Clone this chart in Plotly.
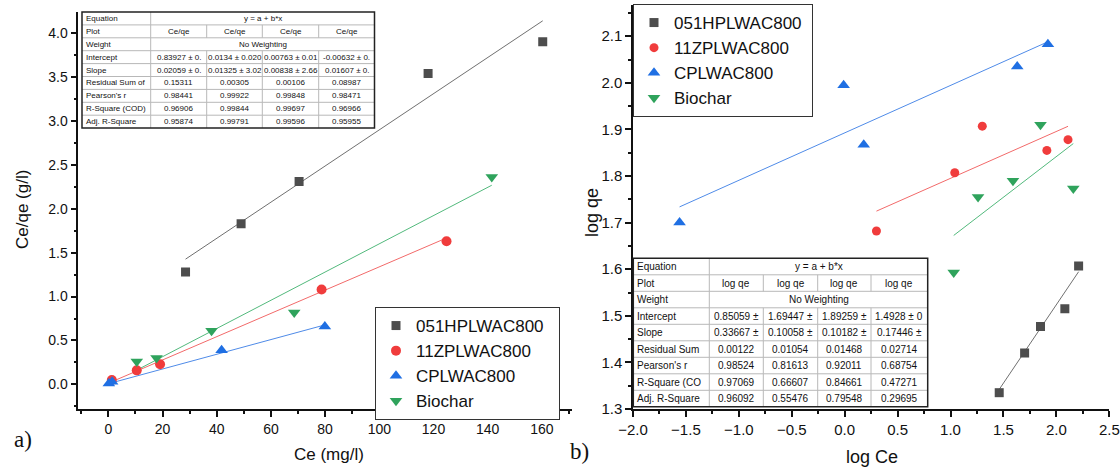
import plotly.graph_objects as go

W, H = 1120, 470
FONT = "Liberation Sans, Arial, sans-serif"

# ---------------- data ----------------
series = ["051HPLWAC800", "11ZPLWAC800", "CPLWAC800", "Biochar"]
colors = ["#4d4d4d", "#f03c3c", "#1f6fe3", "#2fa35c"]
line_colors = ["#707070", "#f26a6a", "#4f8be8", "#52b97c"]
symbols = ["square", "circle", "triangle-up", "triangle-down"]

# panel a) Ce (mg/l) vs Ce/qe (g/l)
ce_051 = [28.5, 49.0, 70.4, 118.0, 160.3]
ceqe_051 = [1.28, 1.83, 2.31, 3.54, 3.90]
ce_11z = [1.3, 10.5, 19.1, 78.7, 124.8]
ceqe_11z = [0.05, 0.16, 0.23, 1.08, 1.63]
ce_cp = [0.2, 1.4, 41.8, 79.9]
ceqe_cp = [0.01, 0.03, 0.39, 0.66]
ce_bio = [10.5, 17.8, 38.1, 68.6, 141.5]
ceqe_bio = [0.26, 0.30, 0.61, 0.82, 2.36]

a_intercept = [0.83927, 0.0134, 0.00763, -0.00632]
a_slope = [0.02059, 0.01325, 0.00838, 0.01607]

# panel b) log Ce vs log qe
logce_051 = [1.46, 1.70, 1.85, 2.08, 2.21]
logqe_051 = [1.335, 1.42, 1.477, 1.515, 1.607]
logce_11z = [0.30, 1.04, 1.30, 1.91, 2.11]
logqe_11z = [1.682, 1.807, 1.907, 1.855, 1.878]
logce_cp = [-1.56, -0.01, 0.18, 1.63, 1.92]
logqe_cp = [1.70, 1.995, 1.867, 2.035, 2.083]
logce_bio = [1.03, 1.26, 1.59, 1.85, 2.16]
logqe_bio = [1.593, 1.755, 1.79, 1.91, 1.773]

b_intercept = [0.85059, 1.69447, 1.89259, 1.4928]
b_slope = [0.33667, 0.10058, 0.10182, 0.17446]

# tables
row_labels_a = ["Equation", "Plot", "Weight", "Intercept", "Slope", "Residual Sum of",
                "Pearson's r", "R-Square (COD)", "Adj. R-Square"]
table_a = [
    ["y = a + b*x"],
    ["Ce/qe", "Ce/qe", "Ce/qe", "Ce/qe"],
    ["No Weighting"],
    ["0.83927 ± 0.", "0.0134 ± 0.020", "0.00763 ± 0.01", "-0.00632 ± 0."],
    ["0.02059 ± 0.", "0.01325 ± 3.02", "0.00838 ± 2.66", "0.01607 ± 0."],
    ["0.15311", "0.00305", "0.00106", "0.08987"],
    ["0.98441", "0.99922", "0.99848", "0.98471"],
    ["0.96906", "0.99844", "0.99697", "0.96966"],
    ["0.95874", "0.99791", "0.99596", "0.95955"],
]
row_labels_b = ["Equation", "Plot", "Weight", "Intercept", "Slope", "Residual Sum",
                "Pearson's r", "R-Square (CO", "Adj. R-Square"]
table_b = [
    ["y = a + b*x"],
    ["log qe", "log qe", "log qe", "log qe"],
    ["No Weighting"],
    ["0.85059 ±", "1.69447 ±", "1.89259 ±", "1.4928 ± 0"],
    ["0.33667 ±", "0.10058 ±", "0.10182 ±", "0.17446 ±"],
    ["0.00122", "0.01054", "0.01468", "0.02714"],
    ["0.98524", "0.81613", "0.92011", "0.68754"],
    ["0.97069", "0.66607", "0.84661", "0.47271"],
    ["0.96092", "0.55476", "0.79548", "0.29695"],
]

# ---------------- figure ----------------
fig = go.Figure()

a_x = [ce_051, ce_11z, ce_cp, ce_bio]
a_y = [ceqe_051, ceqe_11z, ceqe_cp, ceqe_bio]
b_x = [logce_051, logce_11z, logce_cp, logce_bio]
b_y = [logqe_051, logqe_11z, logqe_cp, logqe_bio]
msize_a = [9, 10, 11, 11]
msize_b = [9, 9, 11, 11]

for i in range(4):
    xs = [min(a_x[i]), max(a_x[i])]
    fig.add_trace(go.Scatter(x=xs, y=[a_intercept[i] + a_slope[i] * v for v in xs],
                             mode="lines", line=dict(color=line_colors[i], width=1),
                             showlegend=False, xaxis="x", yaxis="y"))
for i in range(4):
    fig.add_trace(go.Scatter(x=a_x[i], y=a_y[i], mode="markers", name=series[i] + "&nbsp;&nbsp;",
                             marker=dict(symbol=symbols[i], color=colors[i], size=msize_a[i]),
                             xaxis="x", yaxis="y", legend="legend"))
for i in range(4):
    xs = [min(b_x[i]), max(b_x[i])]
    fig.add_trace(go.Scatter(x=xs, y=[b_intercept[i] + b_slope[i] * v for v in xs],
                             mode="lines", line=dict(color=line_colors[i], width=1),
                             showlegend=False, xaxis="x2", yaxis="y2"))
for i in range(4):
    fig.add_trace(go.Scatter(x=b_x[i], y=b_y[i], mode="markers", name=series[i] + "&nbsp;",
                             marker=dict(symbol=symbols[i], color=colors[i], size=msize_b[i]),
                             xaxis="x2", yaxis="y2", legend="legend2"))


def px(x):
    return x / W


def py(y):
    return 1 - y / H


axis_common = dict(showline=True, linecolor="#111", linewidth=1.5, ticks="outside",
                   ticklen=6, tickwidth=1.5, tickcolor="#111", showgrid=False,
                   zeroline=False, mirror=False, automargin=False,
                   minor=dict(ticks="outside", ticklen=3, tickwidth=1.5, tickcolor="#111"))

fig.update_layout(
    width=W, height=H, margin=dict(l=0, r=0, t=0, b=0, autoexpand=False),
    paper_bgcolor="white", plot_bgcolor="white",
    font=dict(family=FONT, color="#111"),
    xaxis=dict(domain=[px(78.3), px(572)], range=[-11.07, 171.1], anchor="y",
               tickmode="linear", tick0=0, dtick=20, minor_dtick=10,
               tickfont=dict(size=14, family=FONT), **axis_common),
    yaxis=dict(domain=[py(409), py(12)], range=[-0.28, 4.24], anchor="x",
               tickmode="linear", tick0=0, dtick=0.5, minor_dtick=0.25, tickformat=".1f",
               tickfont=dict(size=14, family=FONT), **axis_common),
    xaxis2=dict(domain=[px(633), px(1109.3)], range=[-2.0, 2.5], anchor="y2",
                tickmode="linear", tick0=0, dtick=0.5, minor_dtick=0.25, tickformat=".1f",
                tickfont=dict(size=15, family=FONT), **axis_common),
    yaxis2=dict(domain=[py(409), py(5)], range=[1.3, 2.167], anchor="x2",
                tickmode="linear", tick0=0, dtick=0.1, minor_dtick=0.05, tickformat=".1f",
                tickfont=dict(size=15, family=FONT), **axis_common),
    legend=dict(x=px(375), y=py(307), xanchor="left", yanchor="top",
                bgcolor="white", bordercolor="#333", borderwidth=1,
                font=dict(size=17, family=FONT), tracegroupgap=0),
    legend2=dict(x=px(633), y=py(4), xanchor="left", yanchor="top",
                 bgcolor="white", bordercolor="#333", borderwidth=1,
                 font=dict(size=17, family=FONT), tracegroupgap=0),
)

annotations = []
shapes = []


def add_table(x_edges, y_top, row_h, labels, cells, fsize):
    n = len(labels)
    y_edges = [y_top + i * row_h for i in range(n + 1)]
    x0, x1 = x_edges[0], x_edges[-1]
    shapes.append(dict(type="rect", xref="paper", yref="paper", layer="above",
                       x0=px(x0), x1=px(x1), y0=py(y_edges[-1]), y1=py(y_top),
                       fillcolor="white", line=dict(width=0)))
    for yy in y_edges[1:-1]:
        shapes.append(dict(type="line", xref="paper", yref="paper", layer="above",
                           x0=px(x0), x1=px(x1), y0=py(yy), y1=py(yy),
                           line=dict(color="#b8b8b8", width=1)))
    for j, xx in enumerate(x_edges[1:-1]):
        for i in range(n):
            if j > 0 and len(cells[i]) == 1:
                continue
            shapes.append(dict(type="line", xref="paper", yref="paper", layer="above",
                               x0=px(xx), x1=px(xx), y0=py(y_edges[i]), y1=py(y_edges[i + 1]),
                               line=dict(color="#b8b8b8", width=1)))
    shapes.append(dict(type="rect", xref="paper", yref="paper", layer="above",
                       x0=px(x0), x1=px(x1), y0=py(y_edges[-1]), y1=py(y_top),
                       line=dict(color="#222", width=1.5)))
    for i in range(n):
        yc = (y_edges[i] + y_edges[i + 1]) / 2
        annotations.append(dict(xref="paper", yref="paper", x=px(x0 + 2), y=py(yc),
                                xanchor="left", yanchor="middle", showarrow=False,
                                text=labels[i], font=dict(size=fsize, family=FONT, color="#111")))
        if len(cells[i]) == 1:
            xc = (x_edges[1] + x_edges[-1]) / 2
            annotations.append(dict(xref="paper", yref="paper", x=px(xc), y=py(yc),
                                    xanchor="center", yanchor="middle", showarrow=False,
                                    text=cells[i][0], font=dict(size=fsize, family=FONT, color="#111")))
        else:
            for j, t in enumerate(cells[i]):
                xc = (x_edges[j + 1] + x_edges[j + 2]) / 2
                annotations.append(dict(xref="paper", yref="paper", x=px(xc), y=py(yc),
                                        xanchor="center", yanchor="middle", showarrow=False,
                                        text=t, font=dict(size=fsize, family=FONT, color="#111")))


add_table([82, 150.7, 206.7, 262.3, 318.7, 374.5], 12, 12.9, row_labels_a, table_a, 8)
add_table([633.3, 709.3, 763.3, 817.7, 871, 927.7], 258.3, 16.5, row_labels_b, table_b, 10)

# axis titles and panel labels
annotations += [
    dict(xref="paper", yref="paper", x=px(329), y=py(454), text="Ce (mg/l)", showarrow=False,
         xanchor="center", yanchor="middle", font=dict(size=17, family=FONT, color="#111")),
    dict(xref="paper", yref="paper", x=px(22), y=py(210), text="Ce/qe (g/l)", showarrow=False,
         textangle=-90, xanchor="center", yanchor="middle", font=dict(size=17, family=FONT, color="#111")),
    dict(xref="paper", yref="paper", x=px(872), y=py(457), text="log Ce", showarrow=False,
         xanchor="center", yanchor="middle", font=dict(size=18, family=FONT, color="#111")),
    dict(xref="paper", yref="paper", x=px(592), y=py(213), text="log qe", showarrow=False,
         textangle=-90, xanchor="center", yanchor="middle", font=dict(size=18, family=FONT, color="#111")),
    dict(xref="paper", yref="paper", x=px(23), y=py(439), text="a)", showarrow=False,
         xanchor="center", yanchor="middle", font=dict(size=23, family="Liberation Serif, serif", color="#111")),
    dict(xref="paper", yref="paper", x=px(579), y=py(451), text="b)", showarrow=False,
         xanchor="center", yanchor="middle", font=dict(size=23, family="Liberation Serif, serif", color="#111")),
]

fig.update_layout(annotations=annotations, shapes=shapes)
fig.write_html("out.html")
